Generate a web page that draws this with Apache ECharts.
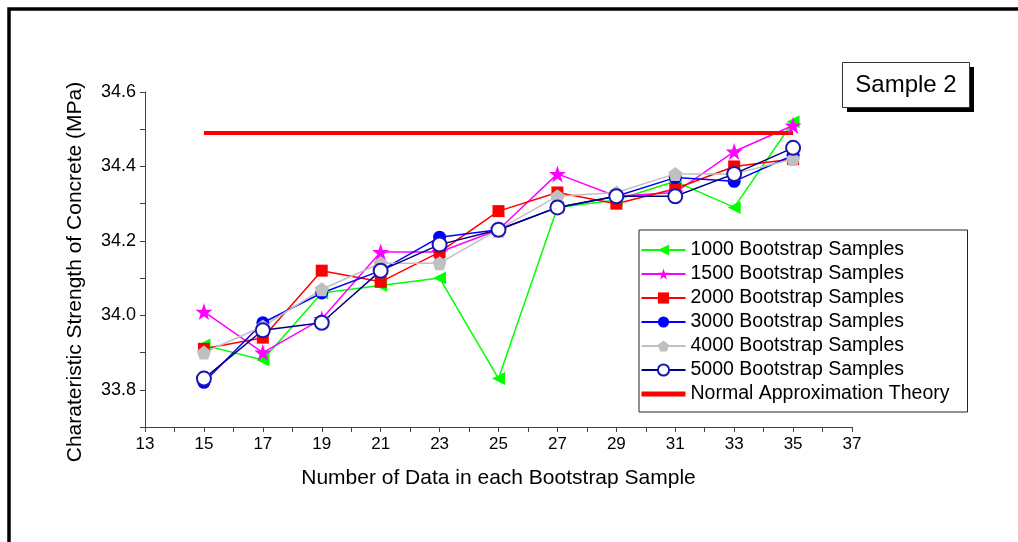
<!DOCTYPE html>
<html>
<head>
<meta charset="utf-8">
<script src="https://cdn.jsdelivr.net/npm/echarts@6/dist/echarts.min.js"></script>
<style>
html,body{margin:0;padding:0;background:#fff;}
#chart{width:1018px;height:542px;}
</style>
</head>
<body>
<div id="chart"></div>
<script>
var xValues = [15, 17, 19, 21, 23, 25, 27, 29, 31, 33, 35];
var s1000 = [33.92, 33.88, 34.06, 34.08, 34.10, 33.83, 34.29, 34.31, 34.36, 34.29, 34.52];
var s1500 = [34.01, 33.90, 33.99, 34.17, 34.17, 34.23, 34.38, 34.32, 34.33, 34.44, 34.51];
var s2000 = [33.91, 33.94, 34.12, 34.09, 34.17, 34.28, 34.33, 34.30, 34.34, 34.40, 34.42];
var s3000 = [33.82, 33.98, 34.06, 34.12, 34.21, 34.23, 34.29, 34.32, 34.37, 34.36, 34.43];
var s4000 = [33.90, 33.97, 34.07, 34.14, 34.14, 34.23, 34.32, 34.33, 34.38, 34.38, 34.42];
var s5000 = [33.83, 33.96, 33.98, 34.12, 34.19, 34.23, 34.29, 34.32, 34.32, 34.38, 34.45];
var normalX = [15, 35];
var normalValue = 34.49;
var seriesNames = ['1000 Bootstrap Samples', '1500 Bootstrap Samples', '2000 Bootstrap Samples',
  '3000 Bootstrap Samples', '4000 Bootstrap Samples', '5000 Bootstrap Samples', 'Normal Approximation Theory'];

function pairs(vals) { return xValues.map(function (x, i) { return [x, vals[i]]; }); }

var FONT = 'Liberation Sans, Arial, sans-serif';
var STAR = 'path://M50,0 L61.8,35.1 L98.1,35.1 L68.8,56.8 L79.4,91.2 L50,70 L20.6,91.2 L31.2,56.8 L1.9,35.1 L38.2,35.1 Z';
var PENT = 'path://M50,0 L100,38 L81,100 L19,100 L0,38 Z';

function mk(name, vals, color, lineColor, symbol, size, extra) {
  var s = {
    name: name, type: 'line', data: pairs(vals),
    symbol: symbol, symbolSize: size,
    lineStyle: { color: lineColor, width: 1.5 },
    itemStyle: { color: color },
    emphasis: { disabled: true }
  };
  if (extra) for (var k in extra) s[k] = extra[k];
  return s;
}

var legendData = seriesNames.map(function (n, i) {
  if (i === 6) return { name: n, itemStyle: { opacity: 0 }, lineStyle: { width: 5 } };
  return { name: n };
});

var chart = echarts.init(document.getElementById('chart'), null, { renderer: 'canvas' });
chart.setOption({
  animation: false,
  backgroundColor: '#fff',
  grid: { left: 145, right: 166, top: 92, bottom: 115 },
  xAxis: {
    type: 'value', min: 13, max: 37, interval: 1,
    name: 'Number of Data in each Bootstrap Sample',
    nameLocation: 'middle', nameGap: 41,
    nameTextStyle: { fontFamily: FONT, fontSize: 21, color: '#000' },
    axisLine: { lineStyle: { color: '#404040', width: 1 } },
    axisTick: { length: 5, lineStyle: { color: '#404040' } },
    axisLabel: {
      fontFamily: FONT, fontSize: 17, color: '#000', margin: 9,
      formatter: function (v) { var r = Math.round(v); return (r % 2 === 1) ? String(r) : ''; }
    },
    splitLine: { show: false }
  },
  yAxis: {
    type: 'value', min: 33.7, max: 34.6, interval: 0.1,
    axisLine: { show: true, lineStyle: { color: '#404040', width: 1 } },
    axisTick: { show: true, length: 5, lineStyle: { color: '#404040' } },
    axisLabel: {
      fontFamily: FONT, fontSize: 18, color: '#000', margin: 9,
      formatter: function (v) { var k = Math.round(v * 10); return (k % 2 === 0) ? (k / 10).toFixed(1) : ''; }
    },
    splitLine: { show: false }
  },
  legend: {
    orient: 'vertical', left: 639, top: 230,
    data: legendData,
    backgroundColor: '#fff', borderColor: '#222', borderWidth: 1,
    padding: [10, 18, 8, 0],
    itemWidth: 44, itemHeight: 14, itemGap: 4,
    textStyle: { fontFamily: FONT, fontSize: 19.5, color: '#000' }
  },
  series: [
    mk(seriesNames[0], s1000, '#00ff00', '#00ff00', 'triangle', 13, { symbolRotate: 90 }),
    mk(seriesNames[1], s1500, '#ff00ff', '#ff00ff', STAR, 17),
    mk(seriesNames[2], s2000, '#ff0000', '#ff0000', 'rect', 12),
    mk(seriesNames[3], s3000, '#0000ff', '#0000ff', 'circle', 13),
    mk(seriesNames[4], s4000, '#c0c0c0', '#c0c0c0', PENT, 14),
    mk(seriesNames[5], s5000, '#1818b0', '#000080', 'emptyCircle', 14, { itemStyle: { color: '#1818b0', borderWidth: 1.3 } }),
    {
      name: seriesNames[6], type: 'line',
      data: normalX.map(function (x) { return [x, normalValue]; }),
      symbol: 'none', showSymbol: false, lineStyle: { color: '#ff0000', width: 4 },
      itemStyle: { color: '#ff0000' }, emphasis: { disabled: true }
    }
  ],
  graphic: [
    { type: 'polyline', shape: { points: [[9, 542], [9, 9], [1018, 9]] }, style: { stroke: '#000', lineWidth: 3.5, fill: null }, silent: true },
    { type: 'rect', shape: { x: 847, y: 67, width: 127, height: 45 }, style: { fill: '#000' }, silent: true },
    { type: 'rect', shape: { x: 842.5, y: 62.5, width: 127, height: 45 }, style: { fill: '#fff', stroke: '#333', lineWidth: 1 }, silent: true },
    { type: 'text', x: 906, y: 85, style: { text: 'Sample 2', fontFamily: FONT, fontSize: 24, fill: '#000', align: 'center', verticalAlign: 'middle' }, silent: true },
    { type: 'text', x: 75, y: 272, rotation: Math.PI / 2, style: { text: 'Charateristic Strength of Concrete (MPa)', fontFamily: FONT, fontSize: 21, fill: '#000', align: 'center', verticalAlign: 'middle' }, silent: true }
  ]
});
</script>
</body>
</html>
